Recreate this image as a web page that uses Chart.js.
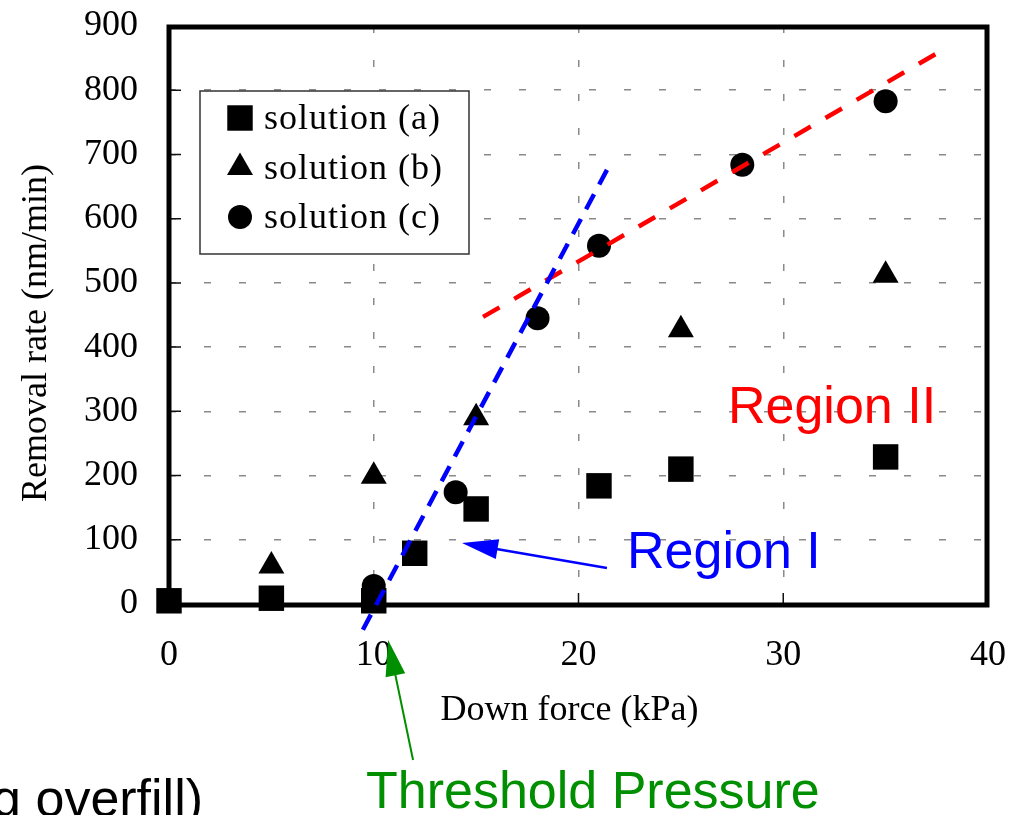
<!DOCTYPE html>
<html>
<head>
<meta charset="utf-8">
<script src="https://cdn.jsdelivr.net/npm/chart.js@4"></script>
<style>
  html, body { margin: 0; padding: 0; background: #fff; }
  #wrap { width: 1023px; height: 815px; position: relative; }
</style>
</head>
<body>
<div id="wrap"><canvas id="chart"></canvas></div>
<script>
// down force (kPa) vs removal rate (nm/min)
const forceA = [0, 5, 10, 12, 15, 21, 25, 35];
const rateA  = [5, 9, 5, 79, 148, 184, 210, 229];
const forceB = [5, 10, 15, 25, 35];
const rateB  = [59, 199, 290, 427, 512];
const forceC = [10, 14, 18, 21, 28, 35];
const rateC  = [28, 174, 445, 558, 684, 783];

// end points of the two fitted guide lines
const fitIForce  = [9.47, 21.39];
const fitIRate   = [-40, 676];
const fitIIForce = [15.34, 37.8];
const fitIIRate  = [447, 863];

const xTicks = [0, 10, 20, 30, 40];
const yTicks = [0, 100, 200, 300, 400, 500, 600, 700, 800, 900];

const serif = "'Liberation Serif', 'Times New Roman', serif";
const sans = "'Liberation Sans', Arial, sans-serif";

const pairs = (xs, ys) => xs.map((x, i) => ({ x, y: ys[i] }));

// text + arrows, placed in axis units
const notes = [
    { text: 'Region II', x: 27.3, y: 282, color: '#ff0000' },
    { text: 'Region I', x: 22.37, y: 56, color: '#0000ff' },
    { text: 'Threshold Pressure', x: 9.62, y: -318, color: '#008f00' },
    { text: 'g overfill)', x: -8.64, y: -330, color: '#000000' }
];
const arrows = [
    { from: [21.39, 56], to: [14.31, 95], color: '#0000ff', width: 2.5 },
    { from: [11.92, -243], to: [10.70, -56], color: '#008f00', width: 2 }
];

// keep edge tick labels from pushing the plot area inward
const noEdgePad = s => {
    s.paddingTop = 0; s.paddingBottom = 0; s.paddingLeft = 0; s.paddingRight = 0;
};

const framePlugin = {
    id: 'frame',
    beforeDatasetsDraw(chart) {
        const { ctx, chartArea: a, scales: { x, y } } = chart;
        ctx.save();
        ctx.strokeStyle = '#111';
        ctx.lineWidth = 1.5;
        ctx.beginPath();
        y.ticks.forEach(t => {
            const py = y.getPixelForValue(t.value);
            ctx.moveTo(a.left, py);
            ctx.lineTo(a.left + 12, py);
        });
        x.ticks.forEach(t => {
            const px = x.getPixelForValue(t.value);
            ctx.moveTo(px, a.bottom);
            ctx.lineTo(px, a.bottom - 11);
        });
        ctx.stroke();
        ctx.strokeStyle = '#000';
        ctx.lineWidth = 5;
        ctx.strokeRect(a.left, a.top + 1, a.right - a.left - 1, a.bottom - a.top);
        ctx.restore();
    }
};

const legendPlugin = {
    id: 'boxLegend',
    afterDatasetsDraw(chart) {
        const { ctx, chartArea: a } = chart;
        const left = a.left + 31, top = a.top + 65, w = 269, h = 163;
        ctx.save();
        ctx.fillStyle = '#fff';
        ctx.fillRect(left, top, w, h);
        ctx.strokeStyle = '#333';
        ctx.lineWidth = 1.5;
        ctx.strokeRect(left, top, w, h);
        ctx.font = '36px ' + serif;
        ctx.textBaseline = 'middle';
        ctx.textAlign = 'left';
        if ('letterSpacing' in ctx) ctx.letterSpacing = '1px';
        chart.data.datasets.filter(d => d.inLegend).forEach((d, i) => {
            const cy = top + 27 + i * 49.5;
            ctx.fillStyle = '#000';
            Chart.helpers.drawPoint(ctx, {
                pointStyle: d.pointStyle, radius: d.pointRadius, rotation: 0, borderWidth: 0
            }, left + 40, cy);
            ctx.fillText(d.label, left + 64, cy + 2);
        });
        ctx.restore();
    }
};

const notesPlugin = {
    id: 'notes',
    afterDraw(chart) {
        const { ctx, scales: { x, y } } = chart;
        ctx.save();
        ctx.font = '52px ' + sans;
        ctx.textAlign = 'left';
        ctx.textBaseline = 'alphabetic';
        notes.forEach(n => {
            ctx.fillStyle = n.color;
            ctx.fillText(n.text, x.getPixelForValue(n.x), y.getPixelForValue(n.y));
        });
        arrows.forEach(ar => {
            const x0 = x.getPixelForValue(ar.from[0]), y0 = y.getPixelForValue(ar.from[1]);
            const x1 = x.getPixelForValue(ar.to[0]), y1 = y.getPixelForValue(ar.to[1]);
            const ang = Math.atan2(y1 - y0, x1 - x0);
            const len = 36, half = 10;
            const bx = x1 - Math.cos(ang) * len, by = y1 - Math.sin(ang) * len;
            ctx.strokeStyle = ar.color;
            ctx.fillStyle = ar.color;
            ctx.lineWidth = ar.width;
            ctx.beginPath();
            ctx.moveTo(x0, y0);
            ctx.lineTo(bx + Math.cos(ang) * 4, by + Math.sin(ang) * 4);
            ctx.stroke();
            ctx.beginPath();
            ctx.moveTo(x1, y1);
            ctx.lineTo(bx - Math.sin(ang) * half, by + Math.cos(ang) * half);
            ctx.lineTo(bx + Math.sin(ang) * half, by - Math.cos(ang) * half);
            ctx.closePath();
            ctx.fill();
        });
        ctx.restore();
    }
};

const markerSet = (label, xs, ys, style, r) => ({
    label, inLegend: true,
    data: pairs(xs, ys),
    pointStyle: style, pointRadius: r, pointHoverRadius: r,
    backgroundColor: '#000', borderColor: '#000', borderWidth: 0,
    showLine: false, clip: false, order: 1
});

const guideLine = (xs, ys, color, dash) => ({
    label: '', inLegend: false,
    data: pairs(xs, ys),
    showLine: true, pointRadius: 0, pointHoverRadius: 0,
    borderColor: color, borderWidth: 4.5, borderDash: dash, borderCapStyle: 'butt',
    clip: false, order: 0
});

new Chart(document.getElementById('chart'), {
    type: 'scatter',
    data: {
        datasets: [
            guideLine(fitIForce, fitIRate, '#0000ff', [17, 11]),
            guideLine(fitIIForce, fitIIRate, '#ff0000', [19, 17]),
            markerSet('solution (a)', forceA, rateA, 'rect', 18),
            markerSet('solution (b)', forceB, rateB, 'triangle', 15),
            markerSet('solution (c)', forceC, rateC, 'circle', 12)
        ]
    },
    options: {
        responsive: true,
        maintainAspectRatio: false,
        animation: false,
        layout: { padding: { top: 26, right: 35, left: 0, bottom: 0 } },
        plugins: { legend: { display: false }, tooltip: { enabled: false } },
        scales: {
            x: {
                type: 'linear', min: 0, max: 40,
                afterBuildTicks: s => { s.ticks = xTicks.map(v => ({ value: v })); },
                afterFit: s => { s.height = 211; noEdgePad(s); },
                ticks: { font: { family: serif, size: 36 }, color: '#000', padding: 30, maxRotation: 0 },
                grid: { color: '#8a8a8a', lineWidth: 1.5, drawTicks: false },
                border: { display: false, dash: [7, 27] },
                title: {
                    display: true, text: 'Down force (kPa)  ', color: '#000',
                    font: { family: serif, size: 36 }, padding: { top: 0, bottom: 83 }
                }
            },
            y: {
                type: 'linear', min: 0, max: 900,
                afterBuildTicks: s => { s.ticks = yTicks.map(v => ({ value: v })); },
                afterFit: s => { s.width = 169; noEdgePad(s); },
                ticks: { font: { family: serif, size: 36 }, color: '#000', padding: 31 },
                grid: { color: '#8a8a8a', lineWidth: 1.5, drawTicks: false },
                border: { display: false, dash: [7, 28] },
                title: {
                    display: true, text: 'Removal rate (nm/min)    ', color: '#000',
                    font: { family: serif, size: 36 }, padding: { top: 15, bottom: 0 }
                }
            }
        }
    },
    plugins: [framePlugin, legendPlugin, notesPlugin]
});
</script>
</body>
</html>
